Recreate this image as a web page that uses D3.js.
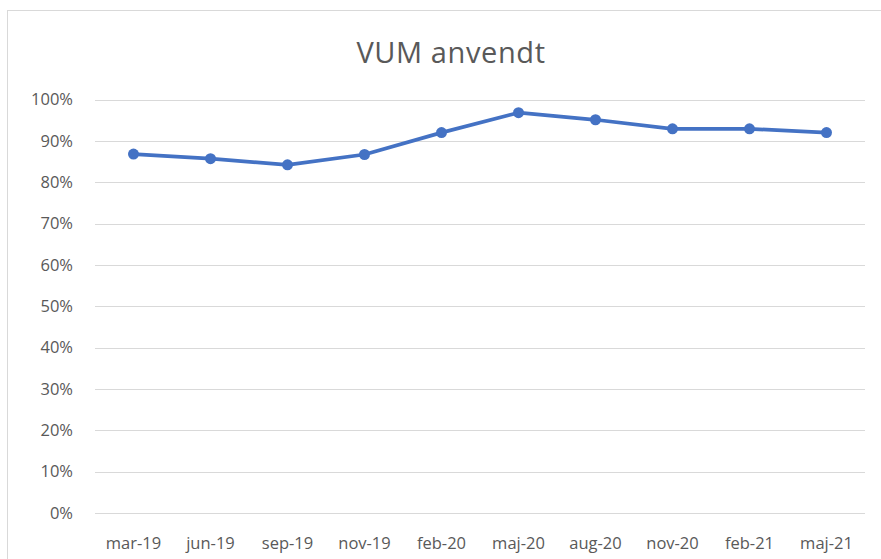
<!DOCTYPE html>
<html>
<head>
<meta charset="utf-8">
<script src="https://cdn.jsdelivr.net/npm/d3@7"></script>
<style>
  body { margin: 0; background: #fff; }
  svg text { font-family: "Open Sans", sans-serif; fill: #595959; }
</style>
</head>
<body>
<div id="chart"></div>
<script>
const categories = ["mar-19", "jun-19", "sep-19", "nov-19", "feb-20", "maj-20", "aug-20", "nov-20", "feb-21", "maj-21"];
const values = [0.868, 0.857, 0.842, 0.867, 0.920, 0.968, 0.951, 0.929, 0.929, 0.920];
const yTicks = [0, 0.1, 0.2, 0.3, 0.4, 0.5, 0.6, 0.7, 0.8, 0.9, 1];
const title = "VUM anvendt";

const width = 881, height = 559;
const margin = { top: 99.5, right: 16, bottom: 46, left: 95 };

const svg = d3.select("#chart")
  .append("svg")
  .attr("width", width)
  .attr("height", height);

// chart area border
svg.append("rect")
  .attr("x", 7.5)
  .attr("y", 10.5)
  .attr("width", width + 10)
  .attr("height", height + 10)
  .attr("fill", "#fff")
  .attr("stroke", "#d9d9d9");

const x = d3.scaleBand()
  .domain(categories)
  .range([margin.left, width - margin.right]);

const y = d3.scaleLinear()
  .domain([0, 1])
  .range([height - margin.bottom, margin.top]);

// gridlines
svg.append("g")
  .selectAll("line")
  .data(yTicks)
  .enter()
  .append("line")
  .attr("x1", margin.left)
  .attr("x2", width - margin.right)
  .attr("y1", d => Math.round(y(d)) + 0.5)
  .attr("y2", d => Math.round(y(d)) + 0.5)
  .attr("stroke", "#d9d9d9")
  .attr("stroke-width", 1);

// y axis labels
const yAxis = d3.axisLeft(y)
  .tickValues(yTicks)
  .tickFormat(d3.format(".0%"))
  .tickSize(0)
  .tickPadding(22);

svg.append("g")
  .attr("transform", `translate(${margin.left},0)`)
  .call(yAxis)
  .call(g => g.select(".domain").remove())
  .selectAll("text")
  .style("font-size", "16.5px")
  .style("font-family", "'Open Sans', sans-serif")
  .style("fill", "#595959");

// x axis labels
const xAxis = d3.axisBottom(x).tickSize(0).tickPadding(24);

svg.append("g")
  .attr("transform", `translate(0,${height - margin.bottom})`)
  .call(xAxis)
  .call(g => g.select(".domain").remove())
  .selectAll("text")
  .style("font-size", "16.5px")
  .style("font-family", "'Open Sans', sans-serif")
  .style("fill", "#595959");

// title
svg.append("text")
  .attr("x", 451)
  .attr("y", 62.5)
  .attr("text-anchor", "middle")
  .style("font-size", "29px")
  .style("letter-spacing", "0.6px")
  .text(title);

// line
const line = d3.line()
  .x((d, i) => x(categories[i]) + x.bandwidth() / 2)
  .y(d => y(d));

svg.append("path")
  .datum(values)
  .attr("fill", "none")
  .attr("stroke", "#4472c4")
  .attr("stroke-width", 3.75)
  .attr("stroke-linejoin", "round")
  .attr("d", line);

svg.append("g")
  .selectAll("circle")
  .data(values)
  .enter()
  .append("circle")
  .attr("cx", (d, i) => x(categories[i]) + x.bandwidth() / 2)
  .attr("cy", d => y(d))
  .attr("r", 5.5)
  .attr("fill", "#4472c4");
</script>
</body>
</html>
